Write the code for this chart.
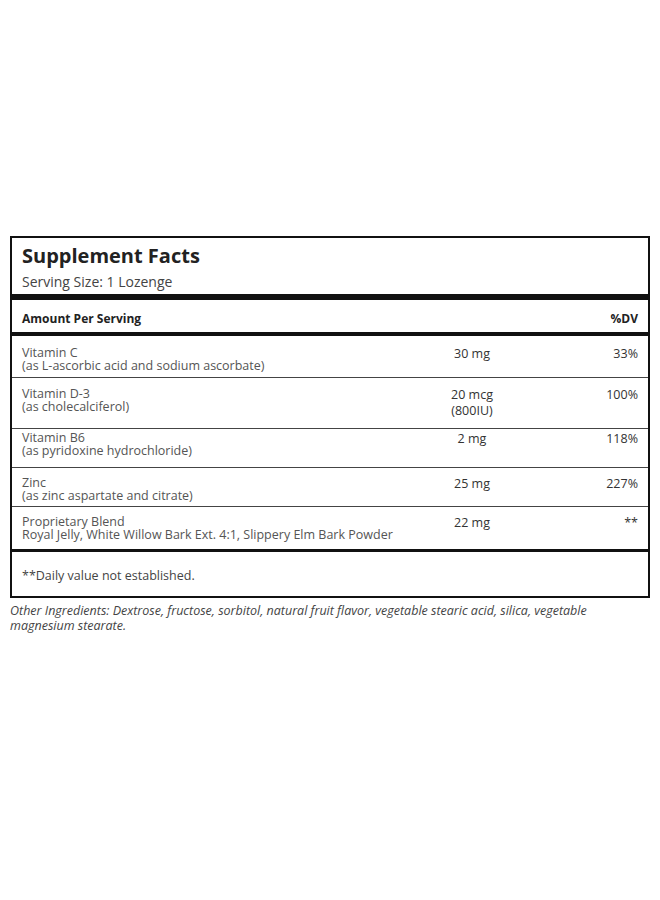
<!DOCTYPE html>
<html><head><meta charset="utf-8">
<script src="https://cdn.jsdelivr.net/npm/chart.js"></script>
<style>
body{margin:0;background:#fff;font-family:"Open Sans","Noto Sans",sans-serif;color:#333;}
#box{position:absolute;left:10px;top:236px;width:636px;height:358px;border:2px solid #111;}
.a{position:absolute;white-space:nowrap;line-height:13px;}
.bar{position:absolute;left:0;right:0;background:#111;}
.thin{position:absolute;left:0;right:0;height:1px;background:#444;}
</style></head><body>
<div id="box"></div>
<div id="oth" class="a" style="left:10px;top:603px;font-size:12.5px;font-style:italic;color:#444;line-height:15px;white-space:normal;width:620px"></div>
<script>
const nutrients=["Vitamin C","Vitamin D-3","Vitamin B6","Zinc","Proprietary Blend"];
const sources=["(as L-ascorbic acid and sodium ascorbate)","(as cholecalciferol)","(as pyridoxine hydrochloride)","(as zinc aspartate and citrate)","Royal Jelly, White Willow Bark Ext. 4:1, Slippery Elm Bark Powder"];
const amounts=["30 mg","20 mcg","2 mg","25 mg","22 mg"];
const amounts2=["","(800IU)","","",""];
const dv=["33%","100%","118%","227%","**"];
const rowTops=[346,387,431,476,515];
const rowLines=[377,428,467,506];
const box=document.getElementById('box');
function t(txt,x,y,css){const d=document.createElement('div');d.className='a';d.textContent=txt;d.style.left=x+'px';d.style.top=y+'px';d.style.cssText+=css||'';box.appendChild(d);return d;}
function bar(y,h){const d=document.createElement('div');d.className='bar';d.style.top=y+'px';d.style.height=h+'px';box.appendChild(d);}
const o=238;
t("Supplement Facts",10,245-o,"font-size:20px;line-height:22px;font-weight:bold;color:#222;");
t("Serving Size: 1 Lozenge",10,274-o,"font-size:14px;line-height:16px;color:#444;");
bar(294-o,6);
t("Amount Per Serving",10,312-o,"font-size:12px;font-weight:bold;color:#222;");
t("%DV",560,312-o,"font-size:12px;font-weight:bold;color:#222;width:66px;text-align:right;");
bar(332-o,4);
nutrients.forEach((n,i)=>{
 const y=rowTops[i]-o;
 t(n,10,y,"font-size:12.5px;color:#555;");
 t(sources[i],10,y+13,"font-size:12.5px;color:#555;");
 t(amounts[i],400,y+1,"font-size:12.5px;color:#333;width:120px;text-align:center;");
 if(amounts2[i])t(amounts2[i],400,y+17,"font-size:12.5px;color:#333;width:120px;text-align:center;");
 t(dv[i],560,y+1,"font-size:12.5px;color:#333;width:66px;text-align:right;");
});
rowLines.forEach(y=>{const d=document.createElement('div');d.className='thin';d.style.top=(y-o)+'px';box.appendChild(d);});
bar(549-o,3);
t("**Daily value not established.",10,569-o,"font-size:12.5px;color:#444;");
document.getElementById('oth').textContent="Other Ingredients: Dextrose, fructose, sorbitol, natural fruit flavor, vegetable stearic acid, silica, vegetable magnesium stearate.";
</script>
</body></html>
